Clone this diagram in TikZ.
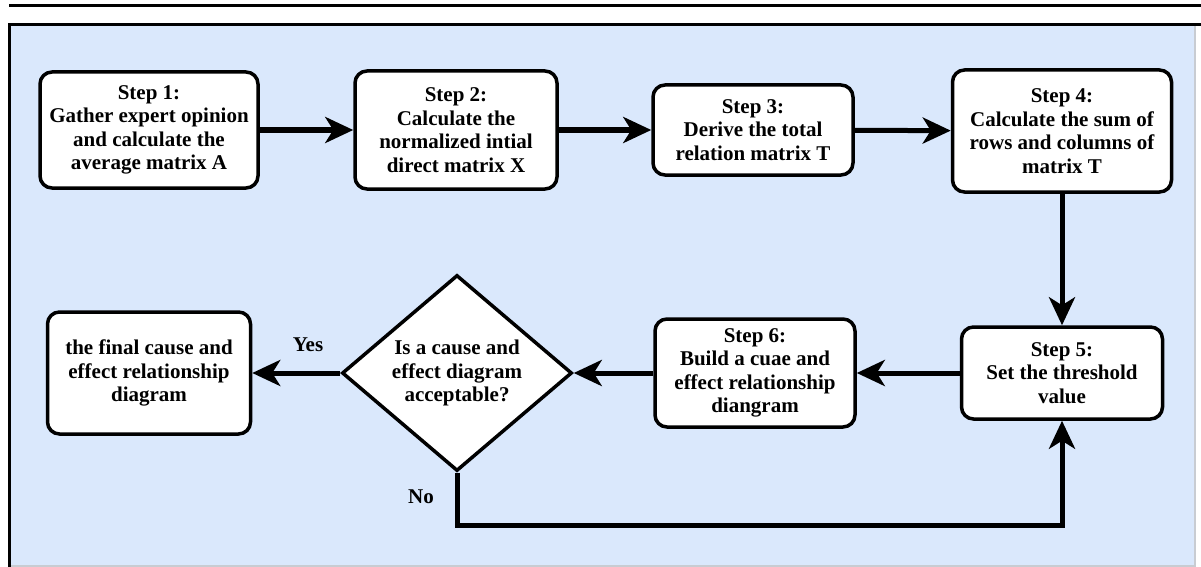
\documentclass[tikz,border=0pt]{standalone}
\usepackage{fontspec}
\setmainfont{Liberation Serif}
\usetikzlibrary{shapes.geometric,arrows.meta}
\definecolor{bgblue}{HTML}{DAE8FC}
\definecolor{edgegray}{HTML}{C8CCD2}
\tikzset{
  stepbox/.style={draw,line width=3.5pt,rounded corners=12pt,fill=white,align=center,
    inner sep=0pt,font=\bfseries\fontsize{21}{23.5}\selectfont},
  decide/.style={draw,diamond,aspect=1.17,line width=3.5pt,fill=white,align=center,
    inner sep=0pt,minimum width=230pt,minimum height=196pt,font=\bfseries\fontsize{21}{23.5}\selectfont},
  flow/.style={line width=5pt,-{Stealth[length=28pt,width=26pt,inset=8pt]}},
  tag/.style={font=\bfseries\fontsize{21}{23.5}\selectfont}
}

\begin{document}
\begin{tikzpicture}[x=1pt,y=-1pt]
                \useasboundingbox (0,0) rectangle (1201,567);
                \fill [bgblue] (9,25) rectangle (1195,567);
                \draw [edgegray,line width=1.5pt] (1195,25) -- (1195,566) -- (9,566);
                \draw [line width=3pt] (9,567) -- (9,25) -- (1201,25);
                \draw [line width=3.5pt] (9,5.5) -- (1201,5.5);
                \node[stepbox,minimum width=218pt,minimum height=116pt] (s1) at (149,130) {Step 1:\\Gather expert opinion\\and calculate the\\average matrix A};
                \node[stepbox,minimum width=202pt,minimum height=118pt] (s2) at (456,130) {Step 2:\\Calculate the\\normalized intial\\direct matrix X};
                \node[stepbox,minimum width=200pt,minimum height=90pt] (s3) at (753,130) {Step 3:\\Derive the total\\relation matrix T};
                \node[stepbox,minimum width=219pt,minimum height=122pt] (s4) at (1062,131) {Step 4:\\Calculate the sum of\\rows and columns of\\matrix T};
                \node[stepbox,minimum width=201pt,minimum height=92pt] (s5) at (1062,373) {Step 5:\\Set the threshold\\value};
                \node[stepbox,minimum width=200pt,minimum height=108pt] (s6) at (755,373) {Step 6:\\Build a cuae and\\effect relationship\\diangram};
                \node[decide] (dec) at (457,373) {Is a cause and\\effect diagram\\acceptable?};
                \node[stepbox,minimum width=203pt,minimum height=122pt] (final) at (149,373) {the final cause and\\effect relationship\\diagram};
                \coordinate (nobend) at (457,525);
                \draw [flow] (s1) -- (s2);
                \draw [flow] (s2) -- (s3);
                \draw [flow] (s3) -- (s4);
                \draw [flow] (s4) -- (s5);
                \draw [flow] (s5) -- (s6);
                \draw [flow] (s6) -- (dec);
                \draw [flow] (dec) -- (final);
                \draw [flow] (dec.south) -- (nobend) -| (s5.south);
                \node[tag] (yes) at (308,345) {Yes};
                \node[tag] (no) at (421,497) {No};
            \end{tikzpicture}
\end{document}
